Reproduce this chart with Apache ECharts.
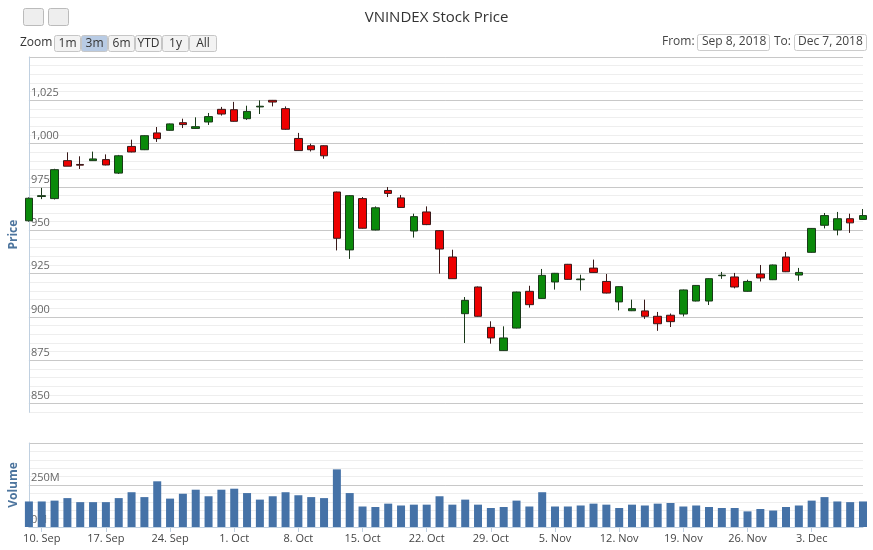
<!DOCTYPE html>
<html><head><meta charset="utf-8">
<script src="https://cdn.jsdelivr.net/npm/echarts@6/dist/echarts.min.js"></script>
<style>html,body{margin:0;padding:0;background:#fff}#c{width:873px;height:550px}</style>
</head><body><div id="c"></div>
<script>
const dates = ['7 Sep','10 Sep','11 Sep','12 Sep','13 Sep','14 Sep','17 Sep','18 Sep','19 Sep','20 Sep','21 Sep','24 Sep','25 Sep','26 Sep','27 Sep','28 Sep',
'1 Oct','2 Oct','3 Oct','4 Oct','5 Oct','8 Oct','9 Oct','10 Oct','11 Oct','12 Oct','15 Oct','16 Oct','17 Oct','18 Oct','19 Oct','22 Oct','23 Oct','24 Oct','25 Oct','26 Oct','29 Oct','30 Oct','31 Oct',
'1 Nov','2 Nov','5 Nov','6 Nov','7 Nov','8 Nov','9 Nov','12 Nov','13 Nov','14 Nov','15 Nov','16 Nov','19 Nov','20 Nov','21 Nov','22 Nov','23 Nov','26 Nov','27 Nov','28 Nov','29 Nov','30 Nov',
'3 Dec','4 Dec','5 Dec','6 Dec','7 Dec'];
const tickLabels = {'10 Sep':'10. Sep','17 Sep':'17. Sep','24 Sep':'24. Sep','1 Oct':'1. Oct','8 Oct':'8. Oct','15 Oct':'15. Oct','22 Oct':'22. Oct','29 Oct':'29. Oct','5 Nov':'5. Nov','12 Nov':'12. Nov','19 Nov':'19. Nov','26 Nov':'26. Nov','3 Dec':'3. Dec'};
// [open, close, low, high]
const ohlc = [
[955.5,968.5,955,969],[969.5,970,968,974.5],[968.3,985,967.8,985.5],[990.2,987,987,995],[988,987.6,985.4,992.7],[990.2,991.2,990,995.4],
[990.8,987.7,987.5,993.8],[983,993,982.5,993.5],[998.4,995.2,995,1002.3],[996.5,1004.6,996.3,1004.8],[1006.2,1002.9,1001,1009.6],
[1007.7,1011.4,1007.5,1011.6],[1012.1,1011,1009,1014.4],[1008.8,1009.8,1008.5,1015.2],[1012.5,1015.6,1010.8,1017.7],[1019.8,1017.1,1016.2,1021.2],
[1019.6,1012.9,1012.7,1024.1],[1014.4,1018.6,1013.7,1021.9],[1021.2,1021.6,1017.1,1025],[1025,1024,1021.5,1025.2],[1020.2,1008.3,1008,1021.5],
[1003,996,995.8,1006.2],[998.8,996.5,995.5,1000],[998.8,993,991.3,999],[972.1,945.4,938.4,972.3],[938.7,970,933.5,970.3],
[968.3,951.2,951,969.2],[950.2,963,950,963.8],[973,971.3,969.2,975],[968.7,963.2,963,970.4],[949.6,957.9,945.8,959.6],
[960.6,953.3,953,963.8],[949.8,939.2,925,950],[934.6,922.1,922,938.8],[901.9,909.6,885,911.5],[917.3,900.4,900.2,917.6],
[894,887.9,884.6,897.5],[880.6,887.9,880.4,894.6],[893.6,914.4,893.4,914.6],[914.8,907.1,905.4,918],[910.7,924,910.5,927.7],
[920.2,925.2,915.8,925.4],[930.4,921.7,921.5,930.6],[921.5,921.9,915.3,924.4],[928.2,925.7,925.5,933.1],[920.5,913.8,913.6,924.8],
[908.7,917.5,903.8,917.7],[903.6,904.8,903.4,910],[903.5,900.4,898.9,910],[900.4,896.1,892,902.9],[901,897.3,894.2,902],
[901.7,915.6,900.3,915.8],[909.2,918.2,909,918.4],[909.2,922.1,906.9,922.3],[923.8,924.1,922,926],[923.1,917.3,916.5,925.4],
[914.8,920.5,914.6,921.5],[924.8,922.5,920.5,930],[921.5,930,921.3,930.2],[934.6,926.1,925.9,937.5],[924.2,925.7,920.9,928.3],
[937.3,951.1,937.1,951.3],[952.9,958.5,951.1,960],[950.2,956.7,947.1,960.6],[956.7,954.3,948.5,959.6],[956.3,958.5,956.1,962.3]];
// volume in millions
const volume = [152,152,157,172,148,148,148,172,207,178,272,169,198,222,183,222,228,202,163,183,207,189,178,172,343,202,
122,119,139,128,133,133,183,133,163,133,113,119,157,122,207,122,122,128,139,133,113,133,128,139,143,122,128,119,113,113,93,107,98,119,128,157,178,152,148,152];

const chart = echarts.init(document.getElementById('c'));
const btn = (x, w, t, sel) => ({type:'group', left:x, top:35, children:[
  {type:'rect', shape:{x:0,y:0,width:w,height:16,r:2}, style:{fill:sel?'#b8cbe4':'#f3f3f3', stroke:'#c6c6c6', lineWidth:1}},
  {type:'text', style:{x:w/2,y:8,text:t,align:'center',verticalAlign:'middle',fontSize:12,fontFamily:'Open Sans',fill:'#333'}}]});
const font = 'Open Sans';
chart.setOption({
  animation:false,
  title:{text:'VNINDEX Stock Price', left:'center', top:5, textStyle:{fontSize:15, fontWeight:'normal', color:'#333', fontFamily:font}},
  graphic:[
    {type:'rect', left:23, top:8, shape:{width:20,height:17,r:2}, style:{fill:'#eee', stroke:'#bbb'}},
    {type:'rect', left:48, top:8, shape:{width:20,height:17,r:2}, style:{fill:'#eee', stroke:'#bbb'}},
    {type:'text', left:20, top:37, style:{text:'Zoom', fontSize:12, fontFamily:font, fill:'#333'}},
    btn(54,26,'1m'), btn(81,26,'3m',true), btn(108,26,'6m'), btn(135,26,'YTD'), btn(162,26,'1y'), btn(189,27,'All'),
    {type:'text', left:662, top:36, style:{text:'From:', fontSize:12, fontFamily:font, fill:'#444'}},
    {type:'rect', left:697, top:34, shape:{width:72,height:16,r:2}, style:{fill:'#fff', stroke:'#ccc'}},
    {type:'text', left:702, top:36, style:{text:'Sep 8, 2018', fontSize:12, fontFamily:font, fill:'#444'}},
    {type:'text', left:774, top:36, style:{text:'To:', fontSize:12, fontFamily:font, fill:'#444'}},
    {type:'rect', left:794, top:34, shape:{width:72,height:16,r:2}, style:{fill:'#fff', stroke:'#ccc'}},
    {type:'text', left:798, top:36, style:{text:'Dec 7, 2018', fontSize:12, fontFamily:font, fill:'#444'}}
  ],
  grid:[
    {left:20, right:10, top:57, height:355.3},
    {left:20, right:10, top:443, height:84}
  ],
  xAxis:[
    {type:'category', gridIndex:0, data:dates, boundaryGap:false, axisLine:{show:false}, axisTick:{show:false}, axisLabel:{show:false}, splitLine:{show:false}},
    {type:'category', gridIndex:1, data:dates, boundaryGap:false,
     axisLine:{lineStyle:{color:'#c0d0e0'}},
     axisTick:{interval:(i,v)=>!!tickLabels[v], lineStyle:{color:'#c0d0e0'}},
     axisLabel:{interval:(i,v)=>!!tickLabels[v], formatter:v=>tickLabels[v]||'', color:'#444', fontSize:11, fontFamily:font, margin:6}}
  ],
  yAxis:[
    {type:'value', gridIndex:0, min:845, max:1050, interval:5, position:'left',
     name:'Price', nameLocation:'middle', nameGap:8, nameRotate:90, nameTextStyle:{color:'#4d759e', fontSize:12, fontWeight:'bold', fontFamily:font},
     axisLine:{show:true, lineStyle:{color:'#c0d0e0'}}, axisTick:{show:false},
     axisLabel:{inside:true, verticalAlign:'bottom', align:'left', margin:2, padding:[0,0,2,0], color:'#666', fontSize:11, fontFamily:font,
       formatter:v=>(v%25===0 && v<1050)?v.toLocaleString('en-US'):''},
     splitLine:{lineStyle:{color:['#eeeeee','#c8c8c8','#eeeeee','#eeeeee','#eeeeee'], width:1}}},
    {type:'value', gridIndex:1, min:0, max:500, interval:50,
     name:'Volume', nameLocation:'middle', nameGap:8, nameRotate:90, nameTextStyle:{color:'#4d759e', fontSize:12, fontWeight:'bold', fontFamily:font},
     axisLine:{show:true, lineStyle:{color:'#c0d0e0'}}, axisTick:{show:false},
     axisLabel:{inside:true, verticalAlign:'bottom', align:'left', margin:2, padding:[0,0,2,0], color:'#666', fontSize:11, fontFamily:font,
       formatter:v=>(v===0||v===250)?v+'M':''},
     splitLine:{lineStyle:{color:['#c8c8c8','#eeeeee','#eeeeee','#eeeeee','#eeeeee'], width:1}}}
  ],
  series:[
    {type:'candlestick', xAxisIndex:0, yAxisIndex:0, data:ohlc, barWidth:8, clip:true,
     itemStyle:{color:'#0a8a0a', color0:'#ee0000', borderColor:'#1a3a1a', borderColor0:'#3a1a1a', borderWidth:1}},
    {type:'bar', xAxisIndex:1, yAxisIndex:1, data:volume, barWidth:8, itemStyle:{color:'#4572a7'}}
  ]
});
</script></body></html>
